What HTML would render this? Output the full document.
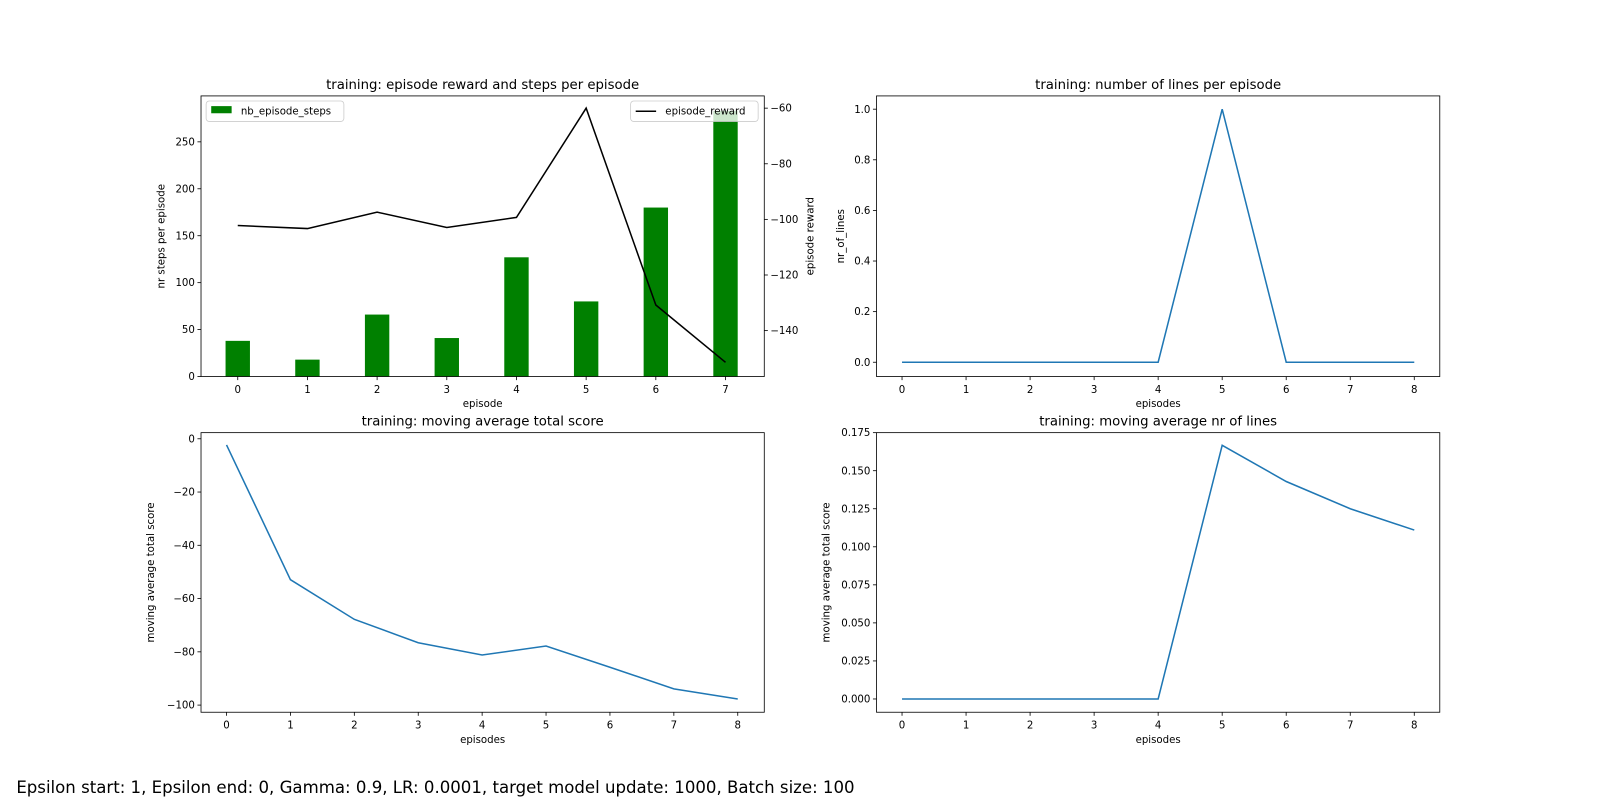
<!DOCTYPE html>
<html><head><meta charset="utf-8"><style>
body{margin:0;background:#fff;width:1600px;height:800px;overflow:hidden;font-family:"DejaVu Sans","Liberation Sans",sans-serif}
svg text{font-family:"DejaVu Sans","Liberation Sans",sans-serif}
</style></head><body>
<svg width="1600" height="800" xmlns="http://www.w3.org/2000/svg">
<g id="fig" transform="scale(1.0204)">
<text x="16" y="777" font-size="16.25" fill="#000">Epsilon start: 1, Epsilon end: 0, Gamma: 0.9, LR: 0.0001, target model update: 1000, Batch size: 100</text>
</g>
</svg>
<script>
const episodes1=[0,1,2,3,4,5,6,7];
const steps=[38,18,66,41,127,80,180,283];
const rewards=[-102.2,-103.3,-97.4,-102.9,-99.3,-60,-130.8,-151.4];
const episodes2=[0,1,2,3,4,5,6,7,8];
const lines=[0,0,0,0,0,1,0,0,0];
const avgScore=[-2.3,-52.9,-67.8,-76.6,-81.2,-77.8,-85.8,-93.9,-97.7];
const avgLines=[0,0,0,0,0,0.1667,0.1429,0.125,0.111];
const xt1=[0,1,2,3,4,5,6,7];
const yt1=[0,50,100,150,200,250];
const yt1r=[-60,-80,-100,-120,-140];
const xt2=[0,1,2,3,4,5,6,7,8];
const ytLines=[0,0.2,0.4,0.6,0.8,1.0];
const ytScore=[0,-20,-40,-60,-80,-100];
const ytAvgL=[0,0.025,0.05,0.075,0.1,0.125,0.15,0.175];
const svg=document.getElementById('fig');
const NS='http://www.w3.org/2000/svg';
function el(tag,at,parent){const e=document.createElementNS(NS,tag);for(const k in at)e.setAttribute(k,at[k]);(parent||svg).appendChild(e);return e;}
function txt(s,x,y,size,anchor,parent,rot){const t=el('text',{x:x,y:y,'font-size':size,'text-anchor':anchor||'middle',fill:'#000'},parent);if(rot)t.setAttribute('transform','rotate(-90 '+x+' '+y+')');t.textContent=s;return t;}
function lin(d0,d1,r0,r1){return v=>r0+(v-d0)*(r1-r0)/(d1-d0);}
function fmt(v,dec){return (v<0?'\u2212':'')+Math.abs(v).toFixed(dec);}
function axes(name,L,T,R,B,xs,ys,xt,yt,ydec,title,xl,yl,yoff){
 const g=el('g',{});
 
 
 const tt=txt(title,(L+R)/2,T-7,13,'middle',g);
 
 
 xt.forEach(v=>{const x=xs(v);el('line',{x1:x,x2:x,y1:B,y2:B+3.5,stroke:'#000','stroke-width':0.8},g);txt(String(v),x,B+16,10,'middle',g);});
 yt.forEach(v=>{const y=ys(v);el('line',{x1:L-3.5,x2:L,y1:y,y2:y,stroke:'#000','stroke-width':0.8},g);txt(fmt(v,ydec),L-6,y+3.5,10,'end',g);});
 const xlab=txt(xl,(L+R)/2,B+30,10,'middle',g);
 
 
 const ylab=txt(yl,L-yoff,(T+B)/2,10,'middle',g,true);
 
 
 return g;
}
function frame(g,L,T,R,B){el('rect',{x:L,y:T,width:R-L,height:B-T,fill:'none',stroke:'#000','stroke-width':0.8},g);}
function poly(g,xs,ys,X,Y,col,name){const p=el('polyline',{points:X.map((v,i)=>xs(v)+','+ys(Y[i])).join(' '),fill:'none',stroke:col,'stroke-width':1.5},g);}

// Top-left
{const L=197,T=94,R=749,B=369;
const xs=lin(0,7,233,711), ys=lin(0,250,369,139), yr=lin(-60,-140,106,324);
const g=axes('chart-reward-steps',L,T,R,B,xs,ys,xt1,yt1,0,'training: episode reward and steps per episode','episode','nr steps per episode',36);
const bw=0.35*(xs(1)-xs(0));
steps.forEach((v,i)=>{const b=el('rect',{x:xs(episodes1[i])-bw/2,y:ys(v),width:bw,height:ys(0)-ys(v),fill:'#008000'},g);
 
 });
poly(g,xs,yr,episodes1,rewards,'#000','episode-reward-line');
yt1r.forEach(v=>{const y=yr(v);el('line',{x1:R,x2:R+3.5,y1:y,y2:y,stroke:'#000','stroke-width':0.8},g);txt(fmt(v,0),R+6,y+3.5,10,'start',g);});
const yl2=txt('episode reward',R+48,(T+B)/2,10,'middle',g,true);


frame(g,L,T,R,B);
const lg1=el('g',{},g);


el('rect',{x:202,y:99,width:135,height:20,rx:3,fill:'#fff','fill-opacity':0.8,stroke:'#ccc','stroke-width':0.8},lg1);
el('rect',{x:207,y:104,width:20,height:7,fill:'#008000'},lg1);
txt('nb_episode_steps',236,112,10,'start',lg1);
const lg2=el('g',{},g);


el('rect',{x:618,y:99,width:125,height:20,rx:3,fill:'#fff','fill-opacity':0.8,stroke:'#ccc','stroke-width':0.8},lg2);
el('line',{x1:623,x2:643,y1:109,y2:109,stroke:'#000','stroke-width':1.5},lg2);
txt('episode_reward',652,112,10,'start',lg2);}

// Top-right
{const L=859,T=94,R=1411,B=369;
const xs=lin(0,8,884,1386), ys=lin(0,1,355,107);
const g=axes('chart-lines',L,T,R,B,xs,ys,xt2,ytLines,1,'training: number of lines per episode','episodes','nr_of_lines',32);
poly(g,xs,ys,episodes2,lines,'#1f77b4','lines-series');frame(g,L,T,R,B);}

// Bottom-left
{const L=197,T=424,R=749,B=698;
const xs=lin(0,8,222,723), ys=lin(0,-100,430,691);
const g=axes('chart-avg-score',L,T,R,B,xs,ys,xt2,ytScore,0,'training: moving average total score','episodes','moving average total score',46);
poly(g,xs,ys,episodes2,avgScore,'#1f77b4','avg-score-series');frame(g,L,T,R,B);}

// Bottom-right
{const L=859,T=424,R=1411,B=698;
const xs=lin(0,8,884,1386), ys=lin(0,0.175,685,424);
const g=axes('chart-avg-lines',L,T,R,B,xs,ys,xt2,ytAvgL,3,'training: moving average nr of lines','episodes','moving average total score',46);
poly(g,xs,ys,episodes2,avgLines,'#1f77b4','avg-lines-series');frame(g,L,T,R,B);}
</script>
</body></html>
